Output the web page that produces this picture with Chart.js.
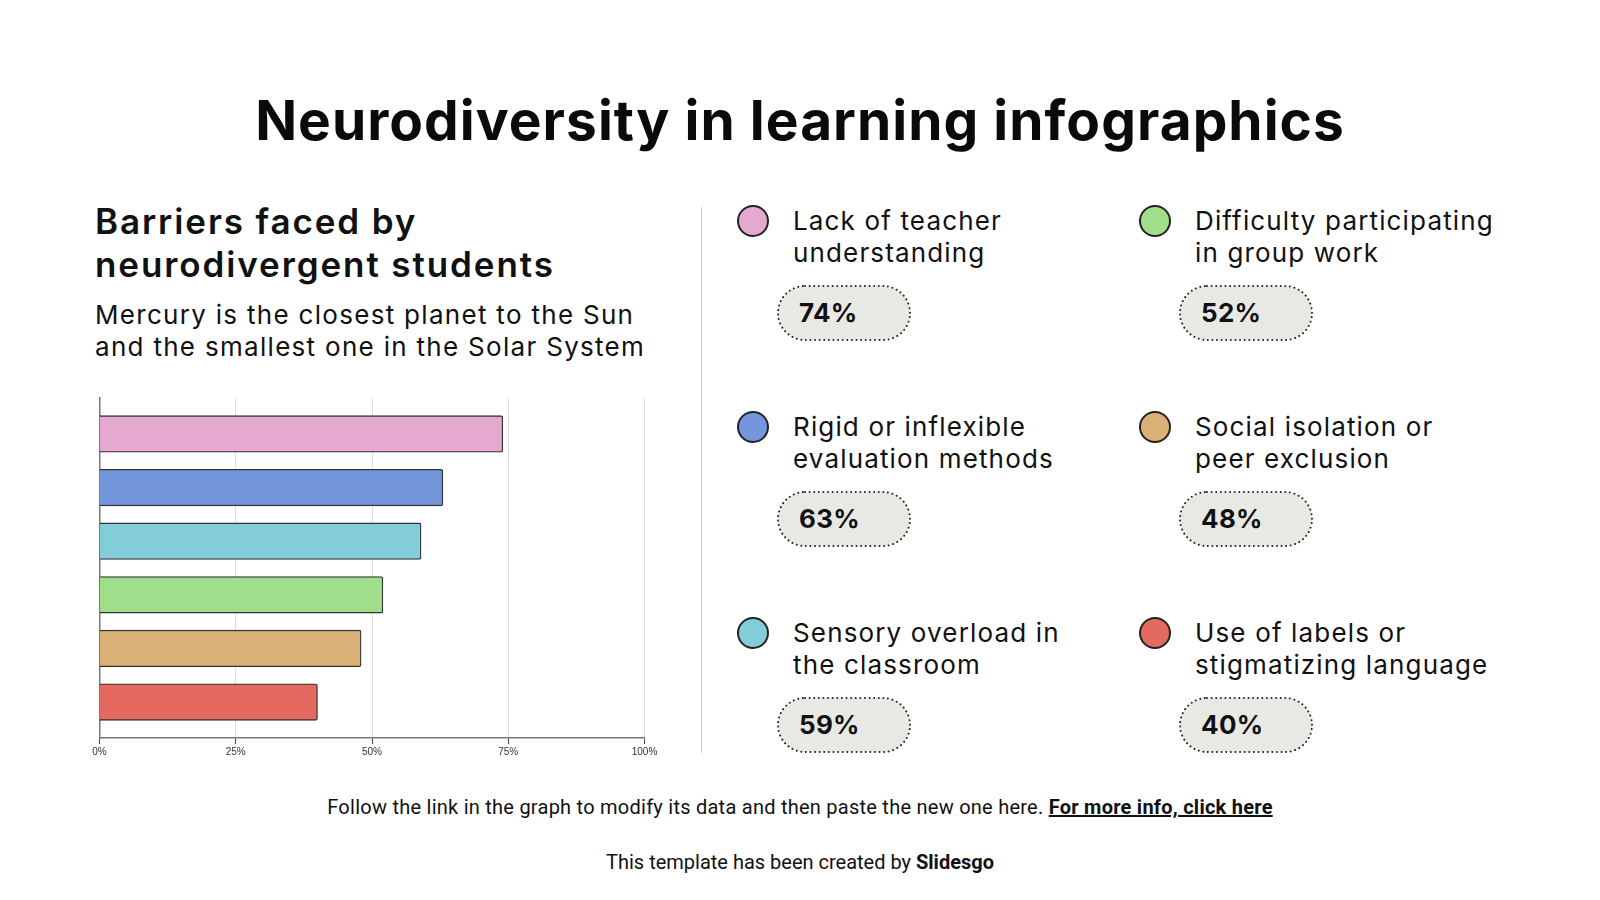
<!DOCTYPE html>
<html>
<head>
<meta charset="utf-8">
<script src="https://cdn.jsdelivr.net/npm/chart.js@4.4.0/dist/chart.umd.min.js"></script>
<style>
  html, body { margin:0; padding:0; background:#fff; }
  body { width:1600px; height:900px; position:relative; overflow:hidden; font-family: Inter, "Noto Sans", sans-serif; color:#111; }
  .abs { position:absolute; }
  #title { left:0; width:1600px; top:88px; text-align:center; font-weight:700; font-size:55px; line-height:64px; letter-spacing:1.05px; color:#0a0a0a; }
  #sub { left:95px; top:200px; font-weight:600; font-size:35px; line-height:43px; letter-spacing:1.9px; color:#111; }
  #desc { left:95px; top:299px; font-size:26px; line-height:32px; letter-spacing:1.3px; color:#111; }
  #divider { left:701px; top:207px; width:1px; height:546px; background:#ccc; }
  #chartBox { left:60px; top:388px; width:620px; height:380px; }
  .dot { position:absolute; width:28px; height:28px; border-radius:50%; border:2px solid #222; }
  .lbl { position:absolute; font-size:26px; line-height:31.5px; letter-spacing:1.15px; color:#111; white-space:nowrap; }
  .pill { position:absolute; width:134px; height:56px; }
  .pill svg { position:absolute; left:0; top:0; }
  .pill span { position:absolute; left:22px; top:0; line-height:56px; font-size:26px; font-weight:700; color:#111; letter-spacing:0.3px; }
  #foot1 { left:0; width:1600px; top:795px; text-align:center; font-family: Roboto, sans-serif; font-size:20px; line-height:24px; letter-spacing:0.25px; color:#111; }
  #foot1 b { text-decoration:underline; font-weight:700; }
  #foot2 { left:0; width:1600px; top:850px; text-align:center; font-family: Roboto, sans-serif; font-size:20px; line-height:24px; color:#111; }
</style>
</head>
<body>
<div id="title" class="abs">Neurodiversity in learning infographics</div>
<div id="sub" class="abs">Barriers faced by<br>neurodivergent students</div>
<div id="desc" class="abs">Mercury is the closest planet to the Sun<br>and the smallest one in the Solar System</div>
<div id="divider" class="abs"></div>
<div id="chartBox" class="abs"><canvas id="c"></canvas></div>
<div id="legend"></div>
<div id="foot1" class="abs">Follow the link in the graph to modify its data and then paste the new one here. <b>For more info, click here</b></div>
<div id="foot2" class="abs">This template has been created by <b>Slidesgo</b></div>

<script>
// ---- data ----
const categories = [
  ["Lack of teacher", "understanding"],
  ["Rigid or inflexible", "evaluation methods"],
  ["Sensory overload in", "the classroom"],
  ["Difficulty participating", "in group work"],
  ["Social isolation or", "peer exclusion"],
  ["Use of labels or", "stigmatizing language"]
];
const values = [74, 63, 59, 52, 48, 40];
const colors = ["#E5A9D0", "#7396DD", "#82CDD8", "#A0DE8C", "#DBB077", "#E4695E"];
const xTicks = [0, 25, 50, 75, 100];
// legend grid order: column 1 = items 0,1,2 ; column 2 = items 3,4,5
const legendCols = [[0, 1, 2], [3, 4, 5]];

// ---- legend blocks ----
const legend = document.getElementById('legend');
const colX = [753, 1155];
const rowY = [221, 427, 633];
legendCols.forEach((col, ci) => {
  col.forEach((idx, ri) => {
    const cx = colX[ci], cy = rowY[ri];
    const d = document.createElement('div');
    d.className = 'dot';
    d.style.left = (cx - 16) + 'px';
    d.style.top = (cy - 16) + 'px';
    d.style.background = colors[idx];
    legend.appendChild(d);
    const l = document.createElement('div');
    l.className = 'lbl';
    l.style.left = (cx + 40) + 'px';
    l.style.top = (cy - 16) + 'px';
    l.innerHTML = categories[idx].join('<br>');
    legend.appendChild(l);
    const p = document.createElement('div');
    p.className = 'pill';
    p.style.left = (cx + 24) + 'px';
    p.style.top = (cy + 64) + 'px';
    p.innerHTML = '<svg width="134" height="56"><rect x="1" y="1" width="132" height="54" rx="27" ry="27" fill="#E8E9E5" stroke="#222" stroke-width="2" stroke-linecap="round" stroke-dasharray="0.01 4.6"/></svg><span>' + values[idx] + '%</span>';
    legend.appendChild(p);
  });
});

// ---- chart ----
const data = values.map((v, i) => ({ x: v, y: i }));
new Chart(document.getElementById('c'), {
  type: 'bar',
  data: {
    datasets: [{
      data: data,
      backgroundColor: colors,
      borderColor: '#333',
      borderWidth: 1.3,
      borderRadius: 2,
      borderSkipped: 'left',
      barThickness: 36.5
    }]
  },
  options: {
    indexAxis: 'y',
    responsive: true,
    maintainAspectRatio: false,
    animation: false,
    layout: { padding: { left: 39.5, right: 35.5, top: 10, bottom: 8 } },
    plugins: { legend: { display: false }, tooltip: { enabled: false } },
    scales: {
      x: {
        type: 'linear', min: 0, max: 100,
        afterBuildTicks: (axis) => { axis.ticks = xTicks.map(v => ({ value: v })); },
        ticks: { callback: v => v + '%', color: '#333', font: { family: 'Liberation Sans, Arial, sans-serif', size: 10 }, padding: 2, maxRotation: 0 },
        grid: { color: '#dddddd', lineWidth: 1, tickColor: '#444', tickLength: 6, drawOnChartArea: true },
        border: { display: true, color: '#777', width: 1.5 }
      },
      y: {
        type: 'linear', min: -0.67, max: 5.67, reverse: true, offset: false,
        ticks: { display: false },
        grid: { display: false, drawTicks: false, offset: false },
        border: { display: true, color: '#777', width: 1.5 }
      }
    }
  }
});
</script>
</body>
</html>
